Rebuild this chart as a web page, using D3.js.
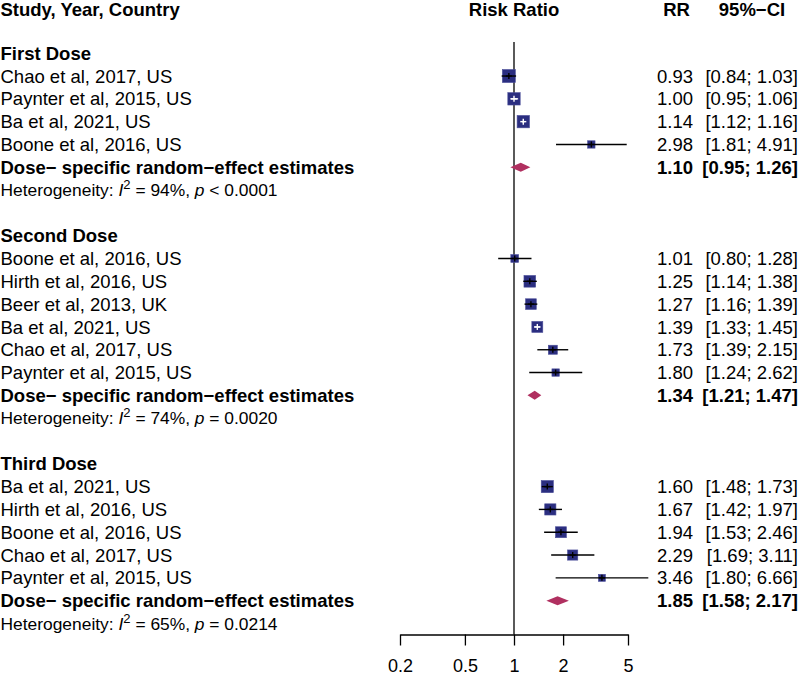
<!DOCTYPE html>
<html>
<head>
<meta charset="utf-8">
<script src="https://cdn.jsdelivr.net/npm/d3@7"></script>
<style>
  html, body { margin: 0; padding: 0; background: #fff; }
  svg { display: block; }
  text { font-family: "Liberation Sans", Arial, Helvetica, sans-serif; fill: #000; }
</style>
</head>
<body>
<script>
// ---------------- DATA ----------------
const groupNames = ["First Dose", "Second Dose", "Third Dose"];
const studyNames = [
  "Chao et al, 2017, US", "Paynter et al, 2015, US", "Ba et al, 2021, US", "Boone et al, 2016, US",
  "Boone et al, 2016, US", "Hirth et al, 2016, US", "Beer et al, 2013, UK", "Ba et al, 2021, US", "Chao et al, 2017, US", "Paynter et al, 2015, US",
  "Ba et al, 2021, US", "Hirth et al, 2016, US", "Boone et al, 2016, US", "Chao et al, 2017, US", "Paynter et al, 2015, US"
];
const studyGroup = [0, 0, 0, 0, 1, 1, 1, 1, 1, 1, 2, 2, 2, 2, 2];
const studyRR    = [0.93, 1.00, 1.14, 2.98, 1.01, 1.25, 1.27, 1.39, 1.73, 1.80, 1.60, 1.67, 1.94, 2.29, 3.46];
const studyLower = [0.84, 0.95, 1.12, 1.81, 0.80, 1.14, 1.16, 1.33, 1.39, 1.24, 1.48, 1.42, 1.53, 1.69, 1.80];
const studyUpper = [1.03, 1.06, 1.16, 4.91, 1.28, 1.38, 1.39, 1.45, 2.15, 2.62, 1.73, 1.97, 2.46, 3.11, 6.66];
const studyWeight = [31, 28, 28, 10, 11, 25, 21, 22, 15, 10, 27, 23, 22, 19, 9];
const pooledLabel = "Dose\u2212 specific random\u2212effect estimates";
const pooledRR    = [1.10, 1.34, 1.85];
const pooledLower = [0.95, 1.21, 1.58];
const pooledUpper = [1.26, 1.47, 2.17];
const hetI2 = ["94%", "74%", "65%"];
const hetP  = ["< 0.0001", "= 0.0020", "= 0.0214"];
const tickValues = [0.2, 0.5, 1, 2, 5];
const headers = ["Study, Year, Country", "Risk Ratio", "RR", "95%\u2212CI"];

// ---------------- LAYOUT ----------------
const W = 800, H = 676;
const rowTop = 7.6, rowStep = 22.81;
const fs = 18.5, fsHet = 17.4;
const rowY = i => rowTop + i * rowStep;
const squareColor = "#2b2e80";
const diamondColor = "#B03060";

const svg = d3.select("body").append("svg").attr("width", W).attr("height", H);

const x = d3.scaleLog().domain([0.2, 5]).range([400, 628]);
const side = d3.scaleSqrt().domain([0, d3.max(studyWeight)]).range([0, 13]);
const fmt = d3.format(".2f");

// build rows
const rows = [];
let r = 2;
groupNames.forEach((g, gi) => {
  rows.push({type: "group", label: g, row: r++});
  studyNames.forEach((s, si) => {
    if (studyGroup[si] === gi) rows.push({type: "study", label: s, idx: si, row: r++});
  });
  rows.push({type: "pooled", label: pooledLabel, idx: gi, row: r++});
  rows.push({type: "het", idx: gi, row: r++});
  r++;
});
const axisY = 634.5;

// headers
const baseOff = 0.357 * fs;
const headY = 16;
svg.append("text").attr("x", 0.5).attr("y", headY).attr("font-size", fs).attr("font-weight", "bold").text(headers[0]);
svg.append("text").attr("x", x(1)).attr("y", headY).attr("font-size", fs).attr("font-weight", "bold").attr("text-anchor", "middle").text(headers[1]);
svg.append("text").attr("x", 676.5).attr("y", headY).attr("font-size", fs).attr("font-weight", "bold").attr("text-anchor", "middle").text(headers[2]);
svg.append("text").attr("x", 752).attr("y", headY).attr("font-size", fs).attr("font-weight", "bold").attr("text-anchor", "middle").text(headers[3]);

// reference line at 1
svg.append("line").attr("x1", x(1)).attr("x2", x(1)).attr("y1", 42).attr("y2", axisY)
  .attr("stroke", "#000").attr("stroke-width", 1.3);

// axis
const axis = d3.axisBottom(x).tickValues(tickValues).tickFormat(d => String(d))
  .tickSize(11).tickSizeOuter(0).tickPadding(13.5);
const ag = svg.append("g").attr("transform", `translate(0,${axisY})`).call(axis);
ag.selectAll("path, line").attr("stroke", "#000").attr("stroke-width", 1.3);
ag.selectAll("text").attr("font-size", 18).attr("font-family", "Liberation Sans, Arial, sans-serif").attr("fill", "#000");

rows.forEach(d => {
  const y = rowY(d.row);
  if (d.type === "group") {
    svg.append("text").attr("x", 0.5).attr("y", y + baseOff).attr("font-size", fs).attr("font-weight", "bold").text(d.label);
  } else if (d.type === "study") {
    const i = d.idx;
    svg.append("text").attr("x", 0.5).attr("y", y + baseOff).attr("font-size", fs).text(d.label);
    const cx = x(studyRR[i]);
    const s = side(studyWeight[i]);
    const lo = x(studyLower[i]), hi = x(studyUpper[i]);
    const inside = lo > cx - s / 2 + 1 && hi < cx + s / 2 - 1;
    const lc = inside ? "#fff" : "#000";
    svg.append("rect").attr("x", cx - s / 2).attr("y", y - s / 2).attr("width", s).attr("height", s)
      .attr("fill", squareColor).attr("stroke", "#4a4d98").attr("stroke-width", 0.6);
    svg.append("line").attr("x1", lo).attr("x2", hi).attr("y1", y).attr("y2", y).attr("stroke", lc).attr("stroke-width", 1.4);
    svg.append("line").attr("x1", cx - 3).attr("x2", cx + 3).attr("y1", y).attr("y2", y).attr("stroke", lc).attr("stroke-width", 1.4);
    svg.append("line").attr("x1", cx).attr("x2", cx).attr("y1", y - 3).attr("y2", y + 3).attr("stroke", lc).attr("stroke-width", 1.4);
    svg.append("text").attr("x", 693).attr("y", y + baseOff).attr("font-size", fs).attr("text-anchor", "end").text(fmt(studyRR[i]));
    svg.append("text").attr("x", 798).attr("y", y + baseOff).attr("font-size", fs).attr("text-anchor", "end")
      .text(`[${fmt(studyLower[i])}; ${fmt(studyUpper[i])}]`);
  } else if (d.type === "pooled") {
    const i = d.idx;
    svg.append("text").attr("x", 0.5).attr("y", y + baseOff).attr("font-size", fs).attr("font-weight", "bold").text(d.label);
    const lo = x(pooledLower[i]), hi = x(pooledUpper[i]), cx = x(pooledRR[i]);
    const h = 4.5;
    svg.append("path").attr("d", `M${lo},${y}L${cx},${y - h}L${hi},${y}L${cx},${y + h}Z`).attr("fill", diamondColor);
    svg.append("text").attr("x", 693).attr("y", y + baseOff).attr("font-size", fs).attr("font-weight", "bold").attr("text-anchor", "end").text(fmt(pooledRR[i]));
    svg.append("text").attr("x", 798).attr("y", y + baseOff).attr("font-size", fs).attr("font-weight", "bold").attr("text-anchor", "end")
      .text(`[${fmt(pooledLower[i])}; ${fmt(pooledUpper[i])}]`);
  } else if (d.type === "het") {
    const i = d.idx;
    const t = svg.append("text").attr("x", 0.5).attr("y", y + 0.357 * fsHet).attr("font-size", fsHet);
    t.append("tspan").text("Heterogeneity: ");
    t.append("tspan").attr("font-style", "italic").text("I");
    t.append("tspan").attr("font-size", fsHet * 0.75).attr("dy", -7).text("2");
    t.append("tspan").attr("dy", 7).text(` = ${hetI2[i]}, `);
    t.append("tspan").attr("font-style", "italic").text("p");
    t.append("tspan").text(` ${hetP[i]}`);
  }
});
</script>
</body>
</html>
